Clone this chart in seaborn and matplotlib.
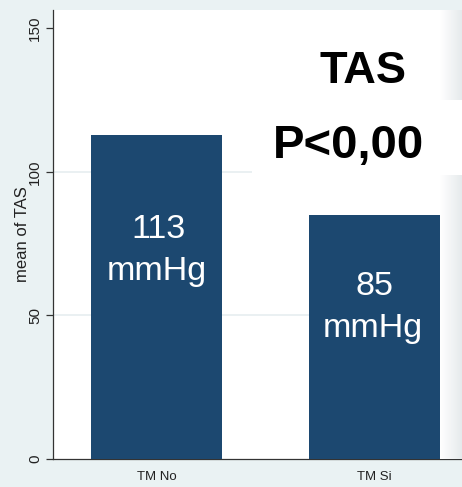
import matplotlib
matplotlib.use("Agg")
import matplotlib.pyplot as plt
import matplotlib.transforms as mtransforms
from matplotlib.patches import Rectangle
from matplotlib.colors import LinearSegmentedColormap
import numpy as np
import pandas as pd
import seaborn as sns

# ---- data ----
groups = ["TM No", "TM Si"]
mean_tas = [113, 85]
value_text = ["113", "85"]
unit_text = "mmHg"
y_ticks = [0, 50, 100, 150]
title_text = "TAS"
pvalue_text = "P<0,00"

BG = "#eaf2f3"
BAR = "#1c4870"
W, H = 462, 487

sns.set_theme(style="white")
plt.rcParams["font.family"] = ["Liberation Sans", "DejaVu Sans"]

fig = plt.figure(figsize=(W / 100, H / 100), dpi=100, facecolor=BG)
ax = fig.add_axes([53 / W, 28 / H, (W - 53) / W, 449 / H])
ax.set_facecolor("white")

df = pd.DataFrame({"group": groups, "tas": mean_tas})
sns.barplot(data=df, x="group", y="tas", color=BAR, saturation=1,
            width=0.6, linewidth=0, ax=ax, zorder=3, errorbar=None)

ax.set_ylim(0, 156.4)
ax.set_xlim(-0.475, 1.401)

# faint horizontal grid at the inner labels
for yv in y_ticks[1:-1]:
    ax.axhline(yv, color="#e6eef0", lw=1.2, zorder=1)

for side in ("top", "right"):
    ax.spines[side].set_visible(False)
for side in ("left", "bottom"):
    ax.spines[side].set_color("#333333")
    ax.spines[side].set_linewidth(0.9)

ax.set_yticks(y_ticks)
ax.set_yticklabels([str(v) for v in y_ticks])
ax.tick_params(axis="y", length=5, width=0.9, color="#333333", direction="out",
               pad=3, labelsize=11, labelcolor="#222222", left=True)
for t in ax.get_yticklabels():
    t.set_rotation(90)
    t.set_va("center")

ax.tick_params(axis="x", length=0, pad=9, labelsize=9.5, labelcolor="#222222")

ax.set_xlabel("")
ax.set_ylabel("")
fig.text(23 / W, 1 - 234 / H, "mean of TAS", rotation=90, ha="center",
         va="center", fontsize=12, color="#222222")

# soft shading along the right edge
grad_ax = fig.add_axes([440 / W, 28 / H, 22 / W, 449 / H], zorder=0.5)
grad = np.linspace(0, 1, 64).reshape(1, -1)
cmap = LinearSegmentedColormap.from_list("edge", ["#ffffff", "#e6eaec"])
grad_ax.imshow(grad, aspect="auto", cmap=cmap, extent=[0, 1, 0, 1])
grad_ax.set_axis_off()

# white panel behind the p-value
fig.patches.append(Rectangle((252 / W, 1 - 175 / H), (W - 252) / W, 75 / H,
                             transform=fig.transFigure, facecolor="white",
                             edgecolor="none", zorder=1))

fig.text(363 / W, 1 - 83 / H, title_text, ha="center", va="baseline",
         fontsize=32.5, fontweight="bold", color="black", zorder=2)
fig.text(349 / W, 1 - 158 / H, pvalue_text, ha="center", va="baseline",
         fontsize=34, fontweight="bold", color="black", zorder=2)

# value labels inside the bars
blend = mtransforms.blended_transform_factory(ax.transData, ax.transAxes)
label_rows = [(0.4922, 0.3987), (0.3653, 0.2717)]
x_shift = [0.01, 0.0]
for i, (txt, (y1, y2)) in enumerate(zip(value_text, label_rows)):
    ax.text(i + x_shift[i], y1, txt, transform=blend, ha="center", va="baseline",
            fontsize=24.5, color="white", zorder=5)
    ax.text(i + x_shift[i] - 0.01, y2, unit_text, transform=blend, ha="center",
            va="baseline", fontsize=24.5, color="white", zorder=5)

fig.savefig("out.png", dpi=100, facecolor=BG)
